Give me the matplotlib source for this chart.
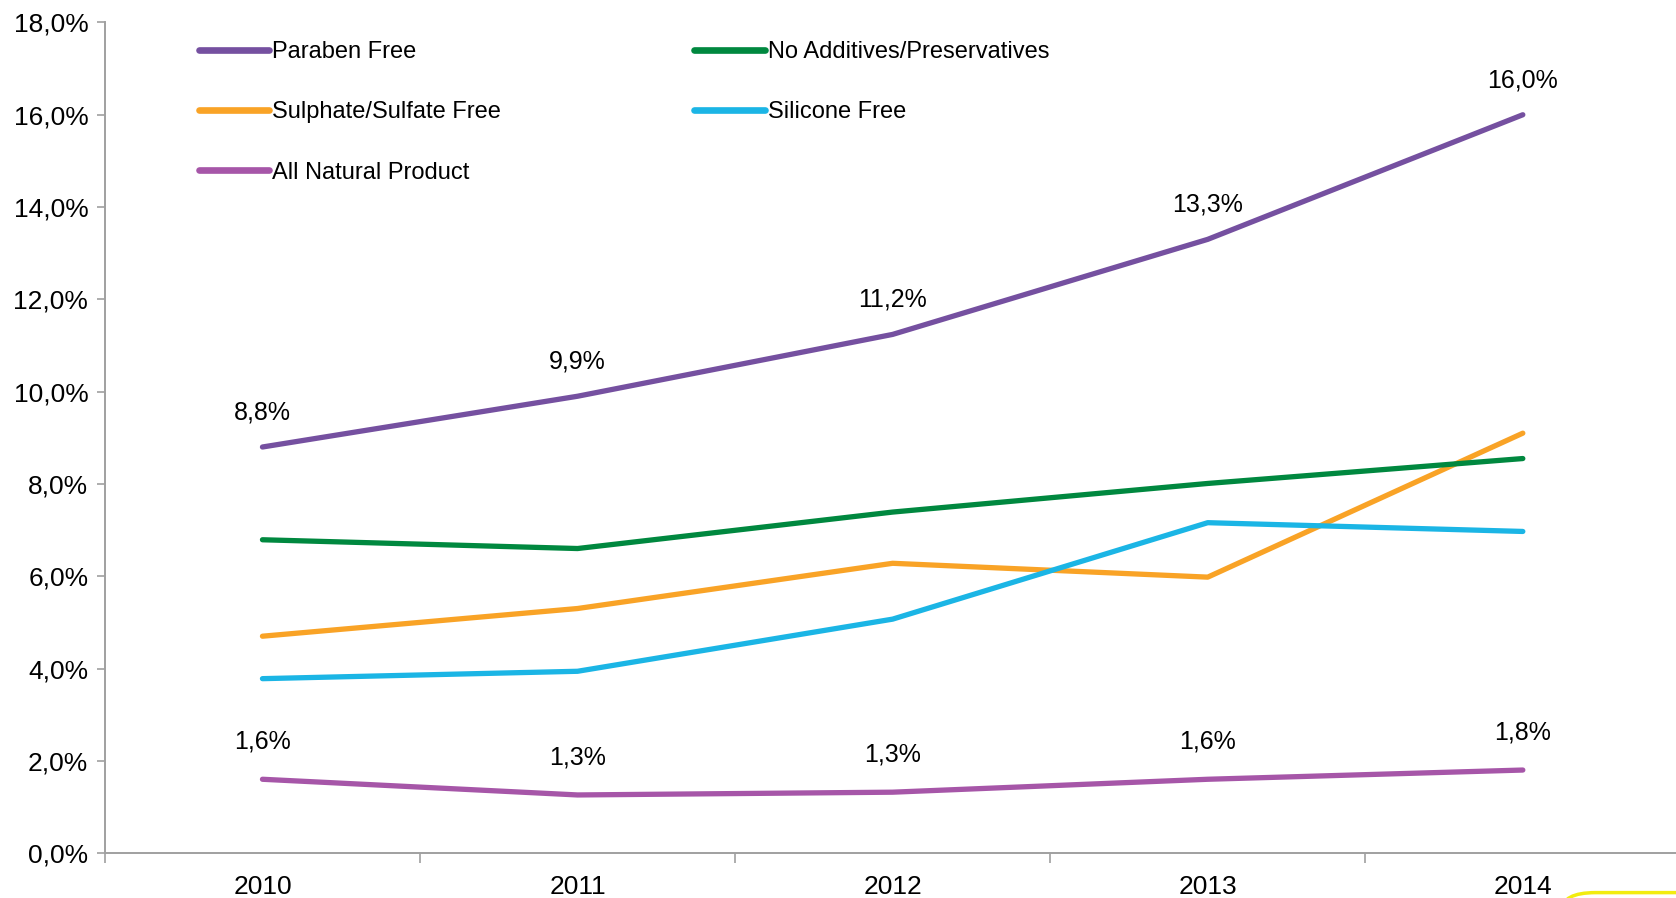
import matplotlib
matplotlib.use("Agg")
import matplotlib.pyplot as plt
from matplotlib.ticker import FuncFormatter, FixedLocator
from matplotlib.patches import FancyBboxPatch
import numpy as np

plt.rcParams['font.family'] = ['Liberation Sans', 'DejaVu Sans']

years = ["2010", "2011", "2012", "2013", "2014"]
paraben = [8.8, 9.9, 11.24, 13.3, 16.0]
no_additives = [6.79, 6.60, 7.39, 8.01, 8.55]
sulphate = [4.70, 5.30, 6.28, 5.98, 9.10]
silicone = [3.78, 3.94, 5.07, 7.16, 6.97]
natural = [1.6, 1.26, 1.32, 1.6, 1.8]

series = [
    ("Paraben Free", paraben, "#7550A0"),
    ("Sulphate/Sulfate Free", sulphate, "#F9A326"),
    ("All Natural Product", natural, "#A656A8"),
    ("No Additives/Preservatives", no_additives, "#00883F"),
    ("Silicone Free", silicone, "#1BB5E5"),
]

def pct(v):
    return ("%.1f%%" % v).replace(".", ",")

fig = plt.figure(figsize=(16.76, 8.98), dpi=100)
ax = fig.add_axes([0.0626, 0.05, 0.94, 0.925])
x = np.arange(len(years))

for name, vals, col in series:
    ax.plot(x, vals, color=col, lw=3.8, label=name, solid_capstyle='round')

# value labels on the top and bottom series
for xi, v in zip(x, paraben):
    ax.annotate(pct(v), (xi, v), xytext=(0, 25), textcoords="offset points",
                ha="center", va="center", fontsize=18)
for xi, v in zip(x, natural):
    ax.annotate(pct(v), (xi, v), xytext=(0, 27), textcoords="offset points",
                ha="center", va="center", fontsize=18)

ax.set_xlim(-0.5, 4.5)
ax.set_ylim(0, 18)
ax.yaxis.set_major_locator(FixedLocator(np.arange(0, 18.1, 2)))
ax.yaxis.set_major_formatter(FuncFormatter(lambda v, p: pct(v)))
ax.set_xticks(x)
ax.set_xticklabels(years)
ax.xaxis.set_minor_locator(FixedLocator(np.arange(-0.5, 4.6, 1)))
ax.tick_params(axis="x", which="major", length=0, labelsize=19, pad=16)
ax.tick_params(axis="x", which="minor", length=7, width=1.2, color="#A0A0A0")
ax.tick_params(axis="y", length=6, width=1.2, color="#A0A0A0", labelsize=19, pad=6)

for s in ["top", "right"]:
    ax.spines[s].set_visible(False)
for s in ["left", "bottom"]:
    ax.spines[s].set_color("#A0A0A0")
    ax.spines[s].set_linewidth(1.4)

leg = ax.legend(loc="upper left", bbox_to_anchor=(0.046, 1.003), ncol=2, frameon=False,
                fontsize=17, handlelength=3.0, handletextpad=0.1,
                labelspacing=1.62, columnspacing=8.2)
for h in leg.get_lines():
    h.set_linewidth(4.8)

fig.patches.append(FancyBboxPatch((0.932, -0.06), 0.2, 0.066, boxstyle="round,pad=0,rounding_size=0.02",
                                  transform=fig.transFigure, fill=False, ec="#F2EC10", lw=2.5))

fig.savefig("out.png", dpi=100)
